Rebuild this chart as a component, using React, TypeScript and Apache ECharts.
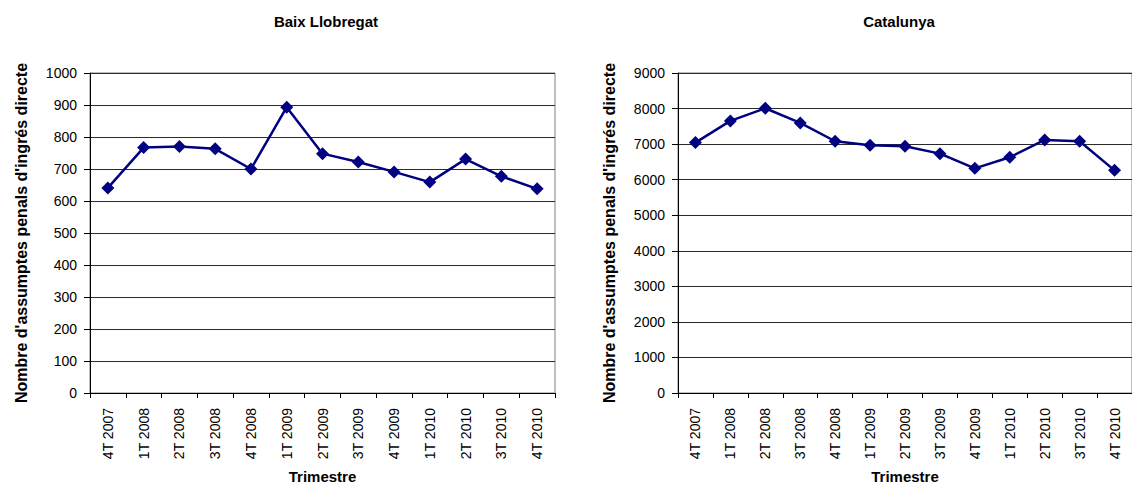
import React, { useEffect, useRef } from "react";
import * as echarts from "echarts";

const categories = [
  "4T 2007", "1T 2008", "2T 2008", "3T 2008", "4T 2008", "1T 2009", "2T 2009",
  "3T 2009", "4T 2009", "1T 2010", "2T 2010", "3T 2010", "4T 2010",
];
const baixLlobregat = [641, 767, 770, 763, 700, 893, 748, 722, 691, 659, 731, 677, 638];
const catalunya = [7042, 7653, 8009, 7597, 7080, 6967, 6938, 6732, 6319, 6629, 7118, 7080, 6262];
const titles = ["Baix Llobregat", "Catalunya"];
const yName = "Nombre d'assumptes penals d'ingrés directe";
const xName = "Trimestre";

const FONT = "'Liberation Sans', Arial, sans-serif";
const NAVY = "#000080";

export default function App() {
  const ref = useRef<HTMLDivElement>(null);
  useEffect(() => {
    if (!ref.current) return;
    const chart = echarts.init(ref.current, undefined, { renderer: "svg" });
    const mkX = (gi: number) => ({
      type: "category",
      gridIndex: gi,
      data: categories,
      boundaryGap: true,
      name: xName,
      nameLocation: "middle",
      nameGap: 76,
      nameTextStyle: { fontFamily: FONT, fontSize: 15, fontWeight: "bold", color: "#000" },
      axisLine: { lineStyle: { color: "#000", width: 1 } },
      axisTick: { show: true, length: 5, lineStyle: { color: "#000" } },
      axisLabel: { rotate: 90, margin: 15, fontFamily: FONT, fontSize: 14, color: "#000" },
      splitLine: { show: false },
    });
    const mkY = (gi: number, max: number, interval: number) => ({
      type: "value",
      gridIndex: gi,
      min: 0,
      max,
      interval,
      name: yName,
      nameLocation: "middle",
      nameGap: 61,
      nameTextStyle: { fontFamily: FONT, fontSize: 16, fontWeight: "bold", color: "#000" },
      axisLine: { show: true, lineStyle: { color: "#000", width: 1 } },
      axisTick: { show: true, length: 6, inside: false, lineStyle: { color: "#000" } },
      axisLabel: {
        margin: 13,
        fontFamily: FONT,
        fontSize: 14,
        color: "#000",
        formatter: (v: number) => String(v),
      },
      splitLine: { show: true, lineStyle: { color: "#2a2a2a", width: 1 } },
    });
    const mkSeries = (gi: number, data: number[]) => ({
      type: "line",
      xAxisIndex: gi,
      yAxisIndex: gi,
      data,
      symbol: "diamond",
      symbolSize: 13,
      lineStyle: { color: NAVY, width: 2.5 },
      itemStyle: { color: NAVY },
    });
    const titleStyle = { fontFamily: FONT, fontSize: 15, fontWeight: "bold", fill: "#000", textAlign: "center", textVerticalAlign: "middle" };
    chart.setOption({
      animation: false,
      backgroundColor: "#fff",
      grid: [
        { left: 90, right: 577, top: 73, bottom: 99, show: true, borderColor: "#808080", borderWidth: 1 },
        { left: 678, right: 0, top: 73, bottom: 99, show: true, borderColor: "#808080", borderWidth: 1 },
      ],
      xAxis: [mkX(0), mkX(1)],
      yAxis: [mkY(0, 1000, 100), mkY(1, 9000, 1000)],
      series: [mkSeries(0, baixLlobregat), mkSeries(1, catalunya)],
      graphic: [
        { type: "text", x: 326, y: 21, style: { ...titleStyle, text: titles[0] } },
        { type: "text", x: 899, y: 21, style: { ...titleStyle, text: titles[1] } },
      ],
    });
    return () => chart.dispose();
  }, []);
  return (
    <div
      ref={ref}
      style={{ position: "fixed", left: 0, top: 0, width: 1132, height: 492, background: "#fff" }}
    />
  );
}
